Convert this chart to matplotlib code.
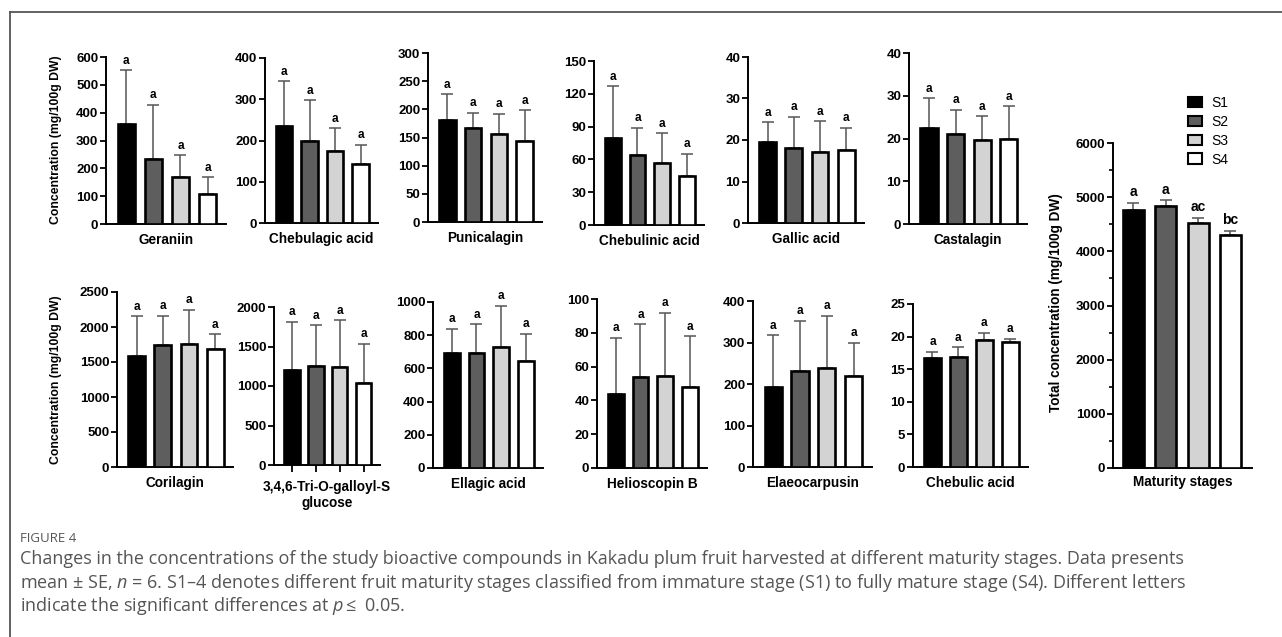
import matplotlib
matplotlib.use("Agg")
import matplotlib.pyplot as plt
from matplotlib.lines import Line2D
from matplotlib.patches import Patch
from matplotlib.ticker import MultipleLocator

plt.rcParams['font.family'] = ['Liberation Sans', 'DejaVu Sans']
plt.rcParams['mathtext.fontset'] = 'custom'
plt.rcParams['mathtext.it'] = 'Open Sans:italic'
plt.rcParams['mathtext.rm'] = 'Open Sans'

stages = ["S1", "S2", "S3", "S4"]
stage_colors = ["#000000", "#5e5e5e", "#d3d3d3", "#ffffff"]

compounds = ["Geraniin", "Chebulagic acid", "Punicalagin", "Chebulinic acid",
             "Gallic acid", "Castalagin", "Corilagin", "3,4,6-Tri-O-galloyl-S\nglucose",
             "Ellagic acid", "Helioscopin B", "Elaeocarpusin", "Chebulic acid"]

geraniin_mean = [360, 232, 170, 108]
geraniin_se = [192, 196, 77, 60]
chebulagic_mean = [235, 198, 175, 142]
chebulagic_se = [109, 100, 55, 48]
punicalagin_mean = [181, 167, 156, 144]
punicalagin_se = [46, 27, 36, 54]
chebulinic_mean = [80, 64, 57, 45]
chebulinic_se = [47, 25, 27, 20]
gallic_mean = [19.5, 18.0, 17.2, 17.7]
gallic_se = [4.8, 7.6, 7.3, 5.3]
castalagin_mean = [22.5, 21.0, 19.6, 20.0]
castalagin_se = [6.9, 5.7, 5.6, 7.5]
corilagin_mean = [1580, 1740, 1755, 1685]
corilagin_se = [570, 420, 490, 215]
trigalloyl_mean = [1205, 1250, 1235, 1040]
trigalloyl_se = [610, 520, 595, 495]
ellagic_mean = [695, 690, 728, 645]
ellagic_se = [145, 175, 250, 163]
helioscopin_mean = [44, 54, 54.5, 48]
helioscopin_se = [33, 31, 37.5, 30]
elaeocarpusin_mean = [192, 231, 239, 219]
elaeocarpusin_se = [126, 122, 126, 81]
chebulic_mean = [16.7, 16.9, 19.5, 19.2]
chebulic_se = [1.0, 1.5, 1.1, 0.5]

total_mean = [4760, 4840, 4520, 4310]
total_se = [140, 100, 100, 70]
total_letters = ["a", "a", "ac", "bc"]

compound_letters = [["a", "a", "a", "a"]] * 12

means = [geraniin_mean, chebulagic_mean, punicalagin_mean, chebulinic_mean,
         gallic_mean, castalagin_mean, corilagin_mean, trigalloyl_mean,
         ellagic_mean, helioscopin_mean, elaeocarpusin_mean, chebulic_mean]
ses = [geraniin_se, chebulagic_se, punicalagin_se, chebulinic_se,
       gallic_se, castalagin_se, corilagin_se, trigalloyl_se,
       ellagic_se, helioscopin_se, elaeocarpusin_se, chebulic_se]
ymax = [600, 400, 300, 150, 40, 40, 2500, 2000, 1000, 100, 400, 25]
ystep = [100, 100, 50, 30, 10, 10, 500, 500, 200, 20, 100, 5]

# layout in pixels: (x_axis_left, x_axis_right, y_of_top_tick, y_of_zero)
W, H = 1282, 637
boxes = [(106, 226, 57, 224), (265, 378, 58, 223), (428, 542, 53, 222),
         (594, 704, 61, 225), (748, 864, 57, 223), (909, 1027, 53, 224),
         (117, 233, 292, 467), (274, 380, 307, 465), (433, 543, 302, 468),
         (597, 707, 299, 468), (753, 872, 301, 467), (913, 1028, 304, 467)]

fig = plt.figure(figsize=(W / 100, H / 100), dpi=100)


def add_ax(x0, x1, ytop, yzero):
    return fig.add_axes([x0 / W, 1 - yzero / H, (x1 - x0) / W, (yzero - ytop) / H])


def draw_panel(ax, mean, se, letters, top, step, xl=(-0.75, 3.68), width=0.64):
    x = list(range(len(stages)))
    ax.bar(x, mean, width=width, color=stage_colors, edgecolor="black",
           linewidth=1.9, zorder=3)
    ax.errorbar(x, mean, yerr=[[0] * len(se), se], fmt="none", ecolor="#555555",
                elinewidth=1.1, capsize=4, capthick=1.1, zorder=2)
    for xi, m, s, lab in zip(x, mean, se, letters):
        ax.annotate(lab, (xi, m + s), xytext=(0, 2.5), textcoords="offset points",
                    ha="center", va="bottom", fontsize=8.5, fontweight="bold")
    ax.set_ylim(0, top)
    ax.set_xlim(*xl)
    ax.yaxis.set_major_locator(MultipleLocator(step))
    for sp in ["top", "right"]:
        ax.spines[sp].set_visible(False)
    for sp in ["left", "bottom"]:
        ax.spines[sp].set_linewidth(1.4)
    ax.tick_params(axis="y", length=4, width=1.3, labelsize=9.5, pad=1.5)
    for t in ax.get_yticklabels():
        t.set_fontweight("bold")
    ax.tick_params(axis="x", length=0)
    ax.set_xticks([])


for i in range(12):
    ax = add_ax(*boxes[i])
    draw_panel(ax, means[i], ses[i], compound_letters[i], ymax[i], ystep[i])
    ax.set_xlabel(compounds[i], fontsize=9.8, fontweight="bold", labelpad=6.5,
                  linespacing=1.0)
    if i == 7:
        ax.set_xticks(range(4))
        ax.set_xticklabels([])
        ax.tick_params(axis="x", length=5, width=1.3, direction="out")
        ax.set_xlabel(compounds[i], fontsize=9.8, fontweight="bold", labelpad=2,
                      linespacing=1.25)

fig.text(56 / W, 1 - 140 / H, "Concentration (mg/100g DW)", rotation=90,
         ha="center", va="center", fontsize=8.8, fontweight="bold")
fig.text(56 / W, 1 - 380 / H, "Concentration (mg/100g DW)", rotation=90,
         ha="center", va="center", fontsize=8.8, fontweight="bold")

# total panel
axt = add_ax(1113, 1252, 143, 468)
draw_panel(axt, total_mean, total_se, total_letters, 6000, 1000,
           xl=(-0.63, 3.67), width=0.65)
for t in axt.texts:
    t.set_fontsize(10)
axt.yaxis.set_minor_locator(MultipleLocator(500))
axt.tick_params(axis="y", which="minor", length=3, width=1.2)
axt.set_xlabel("Maturity stages", fontsize=9.8, fontweight="bold", labelpad=5)
fig.text(1056 / W, 1 - 303 / H, "Total concentration (mg/100g DW)", rotation=90,
         ha="center", va="center", fontsize=9.8, fontweight="bold")

handles = [Patch(facecolor=c, edgecolor="black", linewidth=1.5) for c in stage_colors]
fig.legend(handles, stages, loc="upper left", bbox_to_anchor=(1181 / W, 1 - 89 / H),
           frameon=False, fontsize=10, handlelength=1.0, handleheight=0.8,
           labelspacing=0.35, handletextpad=0.7, borderpad=0)

# figure frame (left and top border)
fig.add_artist(Line2D([10 / W, 10 / W], [0, 1 - 12 / H], color="#555555", linewidth=1.3))
fig.add_artist(Line2D([10 / W, 1.0], [1 - 12 / H, 1 - 12 / H], color="#555555", linewidth=1.3))

cap_color = "#555555"
fig.text(20 / W, 1 - 538 / H, "FIGURE 4", fontsize=9.5, color=cap_color,
         family=["Open Sans", "DejaVu Sans"], va="center", ha="left")
lines = [
    "Changes in the concentrations of the study bioactive compounds in Kakadu plum fruit harvested at different maturity stages. Data presents",
    "mean \u00b1 SE, $n$ = 6. S1\u20134 denotes different fruit maturity stages classified from immature stage (S1) to fully mature stage (S4). Different letters",
    "indicate the significant differences at $p \\leq$ 0.05.",
]
for k, ln in enumerate(lines):
    fig.text(20 / W, 1 - (559 + 23.5 * k) / H, ln, fontsize=13, color=cap_color,
             family=["Open Sans", "DejaVu Sans"], va="center", ha="left")

fig.savefig("out.png", dpi=100)
